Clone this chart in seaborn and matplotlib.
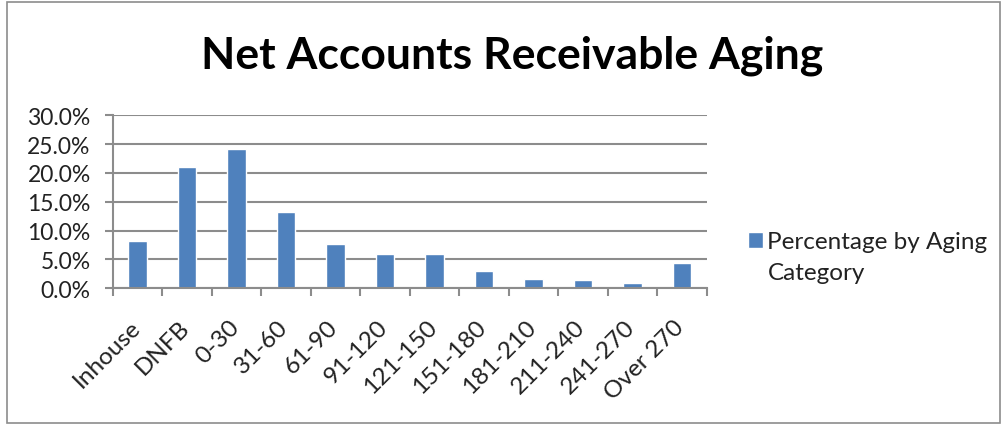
import matplotlib
matplotlib.use("Agg")
import matplotlib.pyplot as plt
import matplotlib.transforms as mtransforms
import seaborn as sns
import pandas as pd
import numpy as np
from matplotlib.patches import Rectangle
from matplotlib.ticker import FuncFormatter, FixedLocator

categories = ["Inhouse", "DNFB", "0-30", "31-60", "61-90", "91-120", "121-150",
              "151-180", "181-210", "211-240", "241-270", "Over 270"]
values = [8.2, 21.1, 24.2, 13.2, 7.7, 5.9, 5.9, 3.0, 1.6, 1.4, 1.0, 4.3]
series_name = "Percentage by Aging\nCategory"
title = "Net Accounts Receivable Aging"
yticks = [0, 5, 10, 15, 20, 25, 30]

sns.set_theme(style="white")
plt.rcParams['font.family'] = ['Lato', 'DejaVu Sans']

df = pd.DataFrame({"cat": categories, "val": values})

fig = plt.figure(figsize=(10.08, 4.27), dpi=100)
ax = fig.add_axes([0.112, 0.3225, 0.589, 0.4055])

sns.barplot(data=df, x="cat", y="val", color="#4F81BD", saturation=1,
            width=0.37, label=series_name, ax=ax)

ax.set_xlim(-0.5, len(categories) - 0.5)
ax.set_ylim(0, 30)
ax.set_yticks(yticks)
ax.yaxis.set_major_formatter(FuncFormatter(lambda v, p: f"{v:.1f}%"))
ax.grid(axis="y", color="#8c8c8c", linewidth=1.5)
ax.set_axisbelow(True)
ax.set_xlabel("")
ax.set_ylabel("")

for s in ["top", "right"]:
    ax.spines[s].set_visible(False)
for s in ["left", "bottom"]:
    ax.spines[s].set_color("#8c8c8c")
    ax.spines[s].set_linewidth(1.5)

txtcol = "#222222"
ax.tick_params(axis="y", which="major", length=6, width=1.5, color="#8c8c8c",
               direction="out", labelsize=16.5, labelcolor=txtcol, left=True, pad=10)
ax.tick_params(axis="x", which="major", length=0, labelsize=17.5, labelcolor=txtcol, pad=25)
ax.xaxis.set_minor_locator(FixedLocator(np.arange(-0.5, len(categories), 1.0)))
ax.tick_params(axis="x", which="minor", length=6, width=1.5, color="#8c8c8c",
               direction="out", bottom=True)
offset = mtransforms.ScaledTranslation(-1 / 100, 0, fig.dpi_scale_trans)
for lbl in ax.get_xticklabels():
    lbl.set_rotation(45)
    lbl.set_ha("right")
    lbl.set_va("center")
    lbl.set_rotation_mode("anchor")
    lbl.set_transform(lbl.get_transform() + offset)

leg = ax.legend(loc="upper left", bbox_to_anchor=(0.742, 0.456),
                bbox_transform=fig.transFigure, frameon=False, fontsize=17.5,
                handlelength=0.6, handleheight=0.6, handletextpad=0.2,
                borderpad=0, borderaxespad=0)
for t in leg.get_texts():
    t.set_color(txtcol)
    t.set_linespacing(1.6)
h = leg.legend_handles[0]
h.set_y(h.get_y() + 12.5)

fig.text(0.508, 0.87, title, ha="center", va="center", fontsize=32,
         fontweight="bold", color="#000000")

fig.patches.append(Rectangle((0.007, 0.008), 0.985, 0.984, transform=fig.transFigure,
                             fill=False, edgecolor="#8c8c8c", linewidth=1.2))

fig.savefig("out.png", dpi=100)
